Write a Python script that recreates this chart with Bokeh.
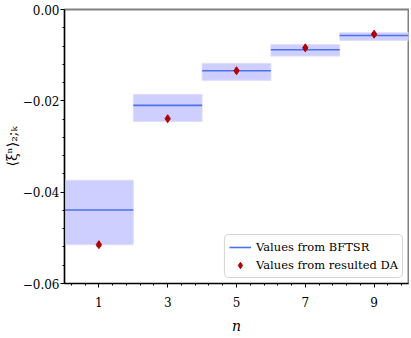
import numpy as np
from bokeh.plotting import figure
from bokeh.models import (ColumnDataSource, FixedTicker, Legend, LegendItem, Range1d, Whisker,
                          CustomJSTickFormatter)
from bokeh.embed import file_html
from bokeh.resources import INLINE

n_values = [1, 3, 5, 7, 9]
bftsr_central = [-0.0439, -0.0210, -0.0134, -0.0088, -0.0057]
bftsr_upper = [-0.0374, -0.0186, -0.0118, -0.0077, -0.0051]
bftsr_lower = [-0.0515, -0.0245, -0.0155, -0.0102, -0.0068]
da_values = [-0.0515, -0.0239, -0.0134, -0.0084, -0.0054]
da_errors = [0.0003, 0.0003, 0.0002, 0.0002, 0.0002]
x_tick_labels = ["1", "3", "5", "7", "9"]
y_ticks = [0.0, -0.02, -0.04, -0.06]

FONT = "'DejaVu Serif', serif"

p = figure(frame_width=344, frame_height=274, output_backend="svg", toolbar_location=None,
           x_range=Range1d(0, 10), y_range=Range1d(-0.06, 0.0),
           min_border_left=10, min_border_top=9, min_border_right=1, min_border_bottom=10)
p.grid.visible = False
p.outline_line_color = "#808080"
p.outline_line_width = 2
p.background_fill_color = "white"

src = ColumnDataSource(dict(
    x=n_values,
    left=[v - 1 for v in n_values],
    right=[v + 1 for v in n_values],
    c=bftsr_central, up=bftsr_upper, lo=bftsr_lower,
    da=da_values,
    da_up=[v + e for v, e in zip(da_values, da_errors)],
    da_lo=[v - e for v, e in zip(da_values, da_errors)],
))

p.quad(left="left", right="right", top="up", bottom="lo", source=src,
       fill_color="#ccccff", fill_alpha=0.95, line_color="#dcdcff", line_width=1)
seg = p.segment(x0="left", x1="right", y0="c", y1="c", source=src,
                line_color="#4a72ee", line_width=1.6)
wh = Whisker(base="x", upper="da_up", lower="da_lo", source=src,
             line_color="#b00000", line_width=1.2)
wh.upper_head.size = 5
wh.lower_head.size = 5
wh.upper_head.line_color = "#b00000"
wh.lower_head.line_color = "#b00000"
p.add_layout(wh)
pts = p.scatter(x="x", y="da", source=src, marker="diamond", size=8,
                fill_color="#b00000", line_color="#b00000")

legend = Legend(items=[LegendItem(label="Values from BFTSR", renderers=[seg]),
                       LegendItem(label="Values from resulted DA", renderers=[pts])],
                location="bottom_right")
legend.label_text_font = FONT
legend.label_text_font_size = "11.5px"
legend.label_text_color = "black"
legend.border_line_color = "#aaaaaa"
legend.border_line_width = 1
legend.border_radius = 5
legend.padding = 4
legend.spacing = 2
legend.margin = 5
legend.glyph_width = 22
legend.label_height = 16
legend.glyph_height = 16
p.add_layout(legend)

# axes
p.xaxis.ticker = FixedTicker(ticks=n_values, minor_ticks=list(np.arange(0.2, 10.0, 0.4)))
p.xaxis.major_label_overrides = {v: s for v, s in zip(n_values, x_tick_labels)}
p.yaxis.ticker = FixedTicker(ticks=y_ticks, minor_ticks=list(np.arange(-0.06, 0.0001, 0.004)))
p.yaxis.formatter = CustomJSTickFormatter(code="return (tick < 0 ? '\u2212' : '') + Math.abs(tick).toFixed(2);")

for ax in (p.xaxis[0], p.yaxis[0]):
    ax.axis_line_color = "black"
    ax.axis_line_width = 1.2
    ax.major_tick_line_color = "black"
    ax.minor_tick_line_color = "black"
    ax.major_tick_out = 4
    ax.major_tick_in = 0
    ax.minor_tick_out = 2
    ax.minor_tick_in = 0
    ax.major_label_text_font = FONT
    ax.major_label_text_font_size = "12px"
    ax.major_label_text_color = "black"
    ax.axis_label_text_color = "black"

p.xaxis.major_label_standoff = 9
p.yaxis.major_label_standoff = 1
p.xaxis.axis_label = "n"
p.xaxis.axis_label_text_font = FONT
p.xaxis.axis_label_text_font_style = "italic"
p.xaxis.axis_label_text_font_size = "14px"
p.xaxis.axis_label_standoff = 8

p.yaxis.axis_label = "\u27e8\u03be\u207f\u27e9\u2082;\u2096"
p.yaxis.axis_label_text_font = FONT
p.yaxis.axis_label_text_font_style = "normal"
p.yaxis.axis_label_text_font_size = "14px"
p.yaxis.axis_label_standoff = 0

open("out.html", "w").write(file_html(p, INLINE))
